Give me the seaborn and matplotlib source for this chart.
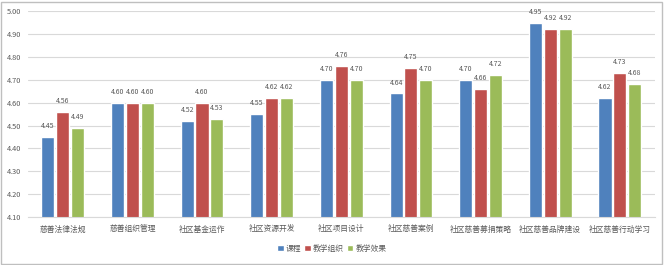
import matplotlib
matplotlib.use("Agg")
import matplotlib.pyplot as plt
import seaborn as sns
import pandas as pd
from matplotlib.patches import Rectangle

categories = ["慈善法律法规", "慈善组织管理", "社区基金运作", "社区资源开发", "社区项目设计",
              "社区慈善案例", "社区慈善募捐策略", "社区慈善品牌建设", "社区慈善行动学习"]
series = ["课程", "教学组织", "教学效果"]
course = [4.45, 4.60, 4.52, 4.55, 4.70, 4.64, 4.70, 4.95, 4.62]
organization = [4.56, 4.60, 4.60, 4.62, 4.76, 4.75, 4.66, 4.92, 4.73]
effect = [4.49, 4.60, 4.53, 4.62, 4.70, 4.70, 4.72, 4.92, 4.68]
yticks = [4.10, 4.20, 4.30, 4.40, 4.50, 4.60, 4.70, 4.80, 4.90, 5.00]

colors = ["#4F81BD", "#C0504D", "#9BBB59"]

rows = []
for vals, s in zip([course, organization, effect], series):
    for c, v in zip(categories, vals):
        rows.append({"category": c, "series": s, "value": v})
df = pd.DataFrame(rows)

sns.set_theme(style="white")
plt.rcParams['font.family'] = ['Noto Sans CJK SC', 'DejaVu Sans']
text_color = "#595959"

fig = plt.figure(figsize=(6.64, 2.65), dpi=100)
ax = fig.add_axes([0.042, 0.181, 0.944, 0.777])

sns.barplot(data=df, x="category", y="value", hue="series", palette=colors,
            order=categories, hue_order=series, width=0.64, gap=0.12,
            ax=ax, legend=True, saturation=1)

for cont in ax.containers:
    ax.bar_label(cont, labels=[f"{h:.2f}" for h in cont.datavalues],
                 padding=5, fontsize=5.0, color=text_color)

ax.set_ylim(4.10, 5.00)
ax.set_yticks(yticks)
ax.set_yticklabels([f"{t:.2f}" for t in yticks], fontsize=5.3, color=text_color)
ax.tick_params(axis="x", labelsize=5.6, colors=text_color, length=0, pad=6)
ax.tick_params(axis="y", length=0, pad=5)
ax.set_xlabel("")
ax.set_ylabel("")
ax.yaxis.grid(True, color="#D9D9D9", linewidth=0.8)
ax.set_axisbelow(True)
for s in ["top", "right", "left"]:
    ax.spines[s].set_visible(False)
ax.spines["bottom"].set_color("#D9D9D9")
ax.spines["bottom"].set_linewidth(0.8)
ax.set_xlim(-0.5, len(categories) - 0.5)

leg = ax.legend(loc="center", bbox_to_anchor=(0.5, 0.06), bbox_transform=fig.transFigure,
                ncol=3, frameon=False, fontsize=5.6, handlelength=0.8, handleheight=0.8,
                handletextpad=0.3, columnspacing=0.4)
for t in leg.get_texts():
    t.set_color(text_color)

fig.patches.append(Rectangle((0.002, 0.004), 0.995, 0.99, transform=fig.transFigure,
                             fill=False, edgecolor="#BFBFBF", linewidth=1.0))

fig.savefig("out.png", dpi=100)
